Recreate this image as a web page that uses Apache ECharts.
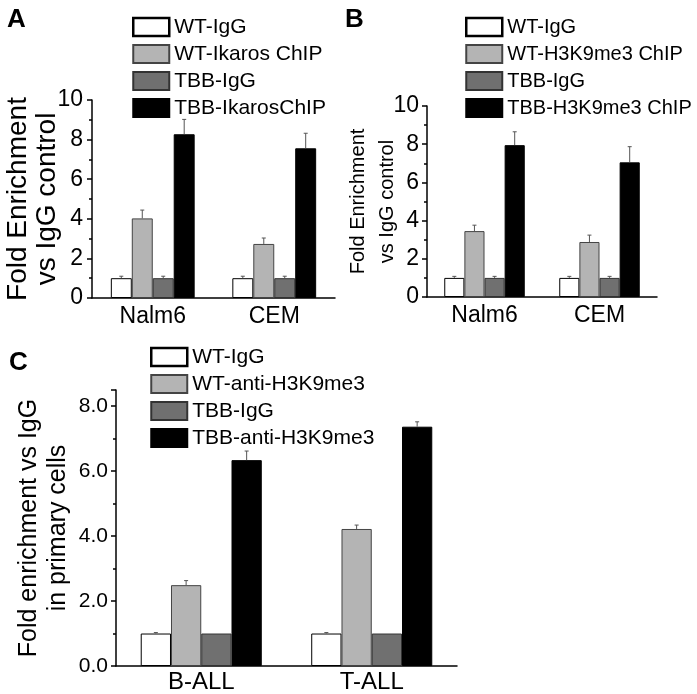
<!DOCTYPE html>
<html>
<head>
<meta charset="utf-8">
<script src="https://cdn.jsdelivr.net/npm/echarts@6/dist/echarts.min.js"></script>
<style>
html, body { margin: 0; padding: 0; background: #fff; }
#chart { width: 697px; height: 694px; }
</style>
</head>
<body>
<div id="chart"></div>
<script>
// Panel A - Ikaros ChIP
const catsA = ['Nalm6', 'CEM'];
const namesA = ['WT-IgG', 'WT-Ikaros ChIP', 'TBB-IgG', 'TBB-IkarosChIP'];
const wtIggA = [1.0, 1.0];
const wtChipA = [4.02, 2.73];
const tbbIggA = [1.0, 1.0];
const tbbChipA = [8.27, 7.56];
const errWtIggA = [0.1, 0.1];
const errWtChipA = [0.42, 0.3];
const errTbbIggA = [0.1, 0.1];
const errTbbChipA = [0.75, 0.76];

// Panel B - H3K9me3 ChIP in cell lines
const catsB = ['Nalm6', 'CEM'];
const namesB = ['WT-IgG', 'WT-H3K9me3 ChIP', 'TBB-IgG', 'TBB-H3K9me3 ChIP'];
const wtIggB = [1.0, 1.0];
const wtChipB = [3.45, 2.88];
const tbbIggB = [1.0, 1.0];
const tbbChipB = [7.95, 7.05];
const errWtIggB = [0.08, 0.08];
const errWtChipB = [0.31, 0.36];
const errTbbIggB = [0.08, 0.08];
const errTbbChipB = [0.7, 0.82];

// Panel C - primary cells
const catsC = ['B-ALL', 'T-ALL'];
const namesC = ['WT-IgG', 'WT-anti-H3K9me3', 'TBB-IgG', 'TBB-anti-H3K9me3'];
const wtIggC = [1.0, 1.0];
const wtChipC = [2.49, 4.22];
const tbbIggC = [1.0, 1.0];
const tbbChipC = [6.34, 7.37];
const errWtIggC = [0.03, 0.03];
const errWtChipC = [0.14, 0.12];
const errTbbIggC = [0, 0];
const errTbbChipC = [0.28, 0.15];

const fills = ['#ffffff', '#b4b4b4', '#707070', '#000000'];
const borders = ['#000000', '#444444', '#333333', '#000000'];
const font = "'Liberation Sans', Arial, sans-serif";

// bars + one-sided error bars for one panel
function panelSeries(grid, names, vals, errs, gap) {
    const out = [];
    vals.forEach((v, k) => {
        out.push({
            type: 'bar', name: names[k], xAxisIndex: grid, yAxisIndex: grid,
            data: v, barGap: 0, barCategoryGap: (gap * 100) + '%',
            itemStyle: { color: fills[k], borderColor: borders[k], borderWidth: 1 },
            emphasis: { disabled: true }
        });
    });
    vals.forEach((v, k) => {
        out.push({
            type: 'custom', xAxisIndex: grid, yAxisIndex: grid, z: 5,
            data: v.map((y, i) => [i, y, errs[k][i]]),
            encode: { x: 0, y: 1 },
            renderItem: (params, api) => {
                const i = api.value(0), y = api.value(1), e = api.value(2);
                if (!e) return null;
                const band = api.size([1, 0])[0];
                const bw = band * (1 - gap) / 4;
                const c = api.coord([i, y]);
                const x = c[0] - 2 * bw + (k + 0.5) * bw;
                const top = api.coord([i, y + e])[1];
                const st = { stroke: '#555', lineWidth: 1 };
                return { type: 'group', children: [
                    { type: 'line', shape: { x1: x, y1: c[1], x2: x, y2: top }, style: st },
                    { type: 'line', shape: { x1: x - 2, y1: top, x2: x + 2, y2: top }, style: st }
                ]};
            }
        });
    });
    return out;
}

function yAx(grid, max, name, nameSize, nameLine, nameGap, labelSize, margin, fmt) {
    return {
        gridIndex: grid, type: 'value', min: 0, max: max, interval: 2,
        name: name, nameLocation: 'middle', nameGap: nameGap, nameMoveOverlap: false,
        nameTextStyle: { fontSize: nameSize, lineHeight: nameLine, color: '#000', fontFamily: font },
        axisLine: { show: true, lineStyle: { color: '#000', width: 1.5 } },
        axisTick: { show: true, length: 5, lineStyle: { color: '#000', width: 1.5 } },
        minorTick: { show: true, splitNumber: 2, length: 3, lineStyle: { color: '#000', width: 1.5 } },
        splitLine: { show: false },
        axisLabel: { fontSize: labelSize, color: '#000', fontFamily: font, margin: margin, formatter: fmt, showMaxLabel: max % 2 === 0 }
    };
}

function xAx(grid, cats, size, margin) {
    return {
        gridIndex: grid, type: 'category', data: cats,
        axisLine: { lineStyle: { color: '#000', width: 1.5 } },
        axisTick: { show: false },
        axisLabel: { fontSize: size, color: '#000', fontFamily: font, margin: margin }
    };
}

function legendFor(names, left, top, size) {
    return {
        orient: 'vertical', left: left, top: top, selectedMode: false,
        icon: 'rect', itemWidth: 36, itemHeight: 18, itemGap: 5,
        data: names.map((n, k) => k === 0 ? { name: n, itemStyle: { borderWidth: 2.5 } } : n),
        textStyle: { fontSize: size, lineHeight: 22, color: '#000', fontFamily: font }
    };
}

const chart = echarts.init(document.getElementById('chart'), null, { renderer: 'canvas' });
chart.setOption({
    animation: false,
    backgroundColor: '#fff',
    title: [
        { text: 'A', left: 2, top: 2, textStyle: { fontSize: 26, fontWeight: 'bold', color: '#000', fontFamily: font } },
        { text: 'B', left: 340, top: 2, textStyle: { fontSize: 26, fontWeight: 'bold', color: '#000', fontFamily: font } },
        { text: 'C', left: 4, top: 345, textStyle: { fontSize: 26, fontWeight: 'bold', color: '#000', fontFamily: font } }
    ],
    legend: [
        legendFor(namesA, 127, 11, 21),
        legendFor(namesB, 460, 11, 20),
        legendFor(namesC, 145, 341, 21)
    ],
    grid: [
        { left: 92, right: 362, top: 100, bottom: 396 },
        { left: 427, right: 40, top: 106, bottom: 397 },
        { left: 116, right: 240, top: 390, bottom: 24 }
    ],
    xAxis: [
        xAx(0, catsA, 23, 7),
        xAx(1, catsB, 23, 7),
        xAx(2, catsC, 24, 4)
    ],
    yAxis: [
        yAx(0, 10, 'Fold Enrichment\nvs IgG control', 28, 29, 30, 23, 9, v => v),
        yAx(1, 10, 'Fold Enrichment\nvs IgG control', 20, 29, 25, 23, 8, v => v),
        yAx(2, 8.5, 'Fold enrichment vs IgG\nin primary cells', 25, 29, 43, 21, 8, v => v.toFixed(1))
    ],
    series: [
        ...panelSeries(0, namesA, [wtIggA, wtChipA, tbbIggA, tbbChipA], [errWtIggA, errWtChipA, errTbbIggA, errTbbChipA], 0.31),
        ...panelSeries(1, namesB, [wtIggB, wtChipB, tbbIggB, tbbChipB], [errWtIggB, errWtChipB, errTbbIggB, errTbbChipB], 0.30),
        ...panelSeries(2, namesC, [wtIggC, wtChipC, tbbIggC, tbbChipC], [errWtIggC, errWtChipC, errTbbIggC, errTbbChipC], 0.29)
    ]
});
</script>
</body>
</html>
